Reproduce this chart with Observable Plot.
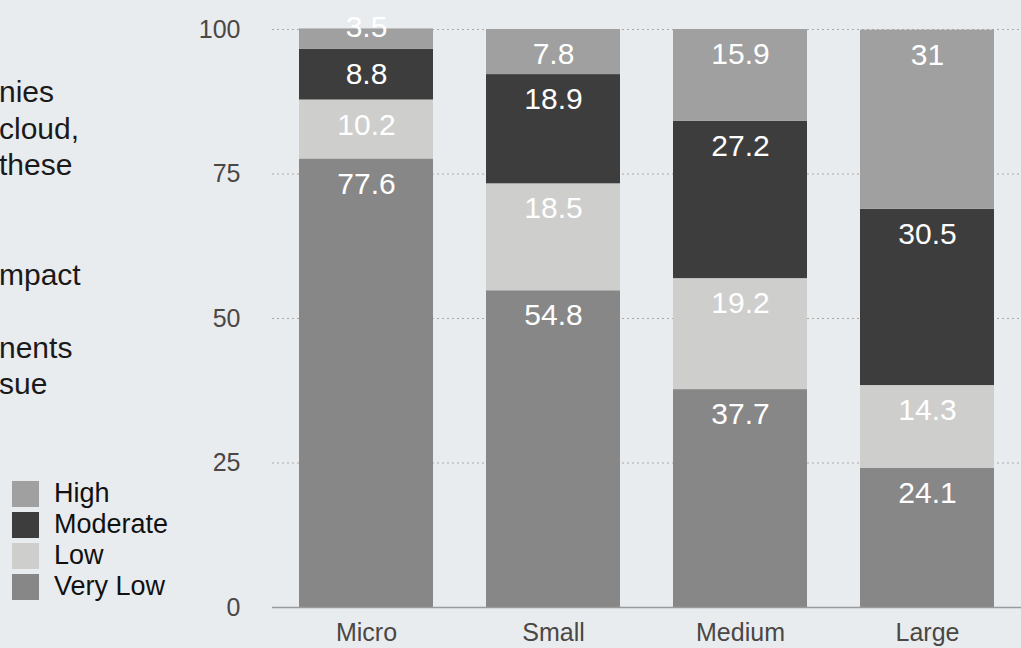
<!DOCTYPE html>
<html>
<head>
<meta charset="utf-8">
<script src="https://cdn.jsdelivr.net/npm/d3@7"></script>
<script src="https://cdn.jsdelivr.net/npm/@observablehq/plot@0.6"></script>
<style>
  html, body { margin: 0; padding: 0; background: #e9ecef; overflow: hidden; }
  body { width: 1021px; height: 648px; position: relative; font-family: "Liberation Sans", Arial, Helvetica, sans-serif; }
  #chart { position: absolute; left: 0; top: 0; }
  #para { position: absolute; left: -1px; top: 74px; font-size: 30px; line-height: 36.5px; color: #1a1a1a; white-space: pre; }
  #legend { position: absolute; left: 12px; top: 478px; }
  .row { display: flex; align-items: center; height: 31px; }
  .sw { width: 27px; height: 26px; margin-right: 15px; }
  .lab { font-size: 27px; color: #111; line-height: 27px; }
</style>
</head>
<body>
<div id="para"></div>
<div id="chart"></div>
<div id="legend"></div>
<script>
const sizes = ["Micro", "Small", "Medium", "Large"];
const levels = ["Very Low", "Low", "Moderate", "High"];
const veryLow = [77.6, 54.8, 37.7, 24.1];
const low = [10.2, 18.5, 19.2, 14.3];
const moderate = [8.8, 18.9, 27.2, 30.5];
const high = [3.5, 7.8, 15.9, 31];
const yTicks = [0, 25, 50, 75, 100];
const gridTicks = [25, 50, 75, 100];
const legendOrder = ["High", "Moderate", "Low", "Very Low"];
const legendColors = ["#a0a0a0", "#3d3d3d", "#cececc", "#878787"];
const paraLines = ["nies", "cloud,", "these", "", "", "mpact", "", "nents", "sue"];

const series = [veryLow, low, moderate, high];
const data = [];
levels.forEach((lv, i) => sizes.forEach((s, j) => data.push({size: s, level: lv, value: series[i][j]})));

const font = "'Liberation Sans', Arial, Helvetica, sans-serif";

const chart = Plot.plot({
  width: 1021,
  height: 648,
  marginLeft: 272,
  marginRight: 0,
  marginTop: 29,
  marginBottom: 41,
  style: {background: "transparent", fontFamily: font},
  x: {domain: sizes, paddingInner: 0.285, paddingOuter: 0.145, label: null},
  y: {domain: [0, 100], label: null},
  color: {domain: legendOrder, range: legendColors},
  marks: [
    Plot.ruleY(gridTicks, {stroke: "#a8a8a8", strokeDasharray: "2,3", strokeWidth: 1.2}),
    Plot.barY(data, {x: "size", y: "value", fill: "level", z: "level"}),
    Plot.ruleY([0], {stroke: "#9a9a9a", strokeWidth: 1.5}),
    Plot.text(data, Plot.stackY2({x: "size", y: "value", z: "level",
      text: d => d.value >= 5 ? String(d.value) : "",
      fill: "white", fontSize: 30, lineAnchor: "middle", dy: 25})),
    Plot.text(data, Plot.stackY2({x: "size", y: "value", z: "level",
      text: d => d.value < 5 ? String(d.value) : "",
      fill: "white", fontSize: 30, lineAnchor: "middle", dy: -2})),
    Plot.axisY({ticks: yTicks, tickSize: 0, tickPadding: 32, fontSize: 25, fill: "#4a4745", label: null}),
    Plot.axisX({tickSize: 0, tickPadding: 16, fontSize: 25, fill: "#4a4745", label: null})
  ]
});
document.getElementById("chart").appendChild(chart);

document.getElementById("para").textContent = paraLines.join("\n");

const legend = document.getElementById("legend");
legendOrder.forEach((k, i) => {
  const row = document.createElement("div");
  row.className = "row";
  const sw = document.createElement("div");
  sw.className = "sw";
  sw.style.background = legendColors[i];
  const lab = document.createElement("div");
  lab.className = "lab";
  lab.textContent = k;
  row.appendChild(sw);
  row.appendChild(lab);
  legend.appendChild(row);
});
</script>
</body>
</html>
